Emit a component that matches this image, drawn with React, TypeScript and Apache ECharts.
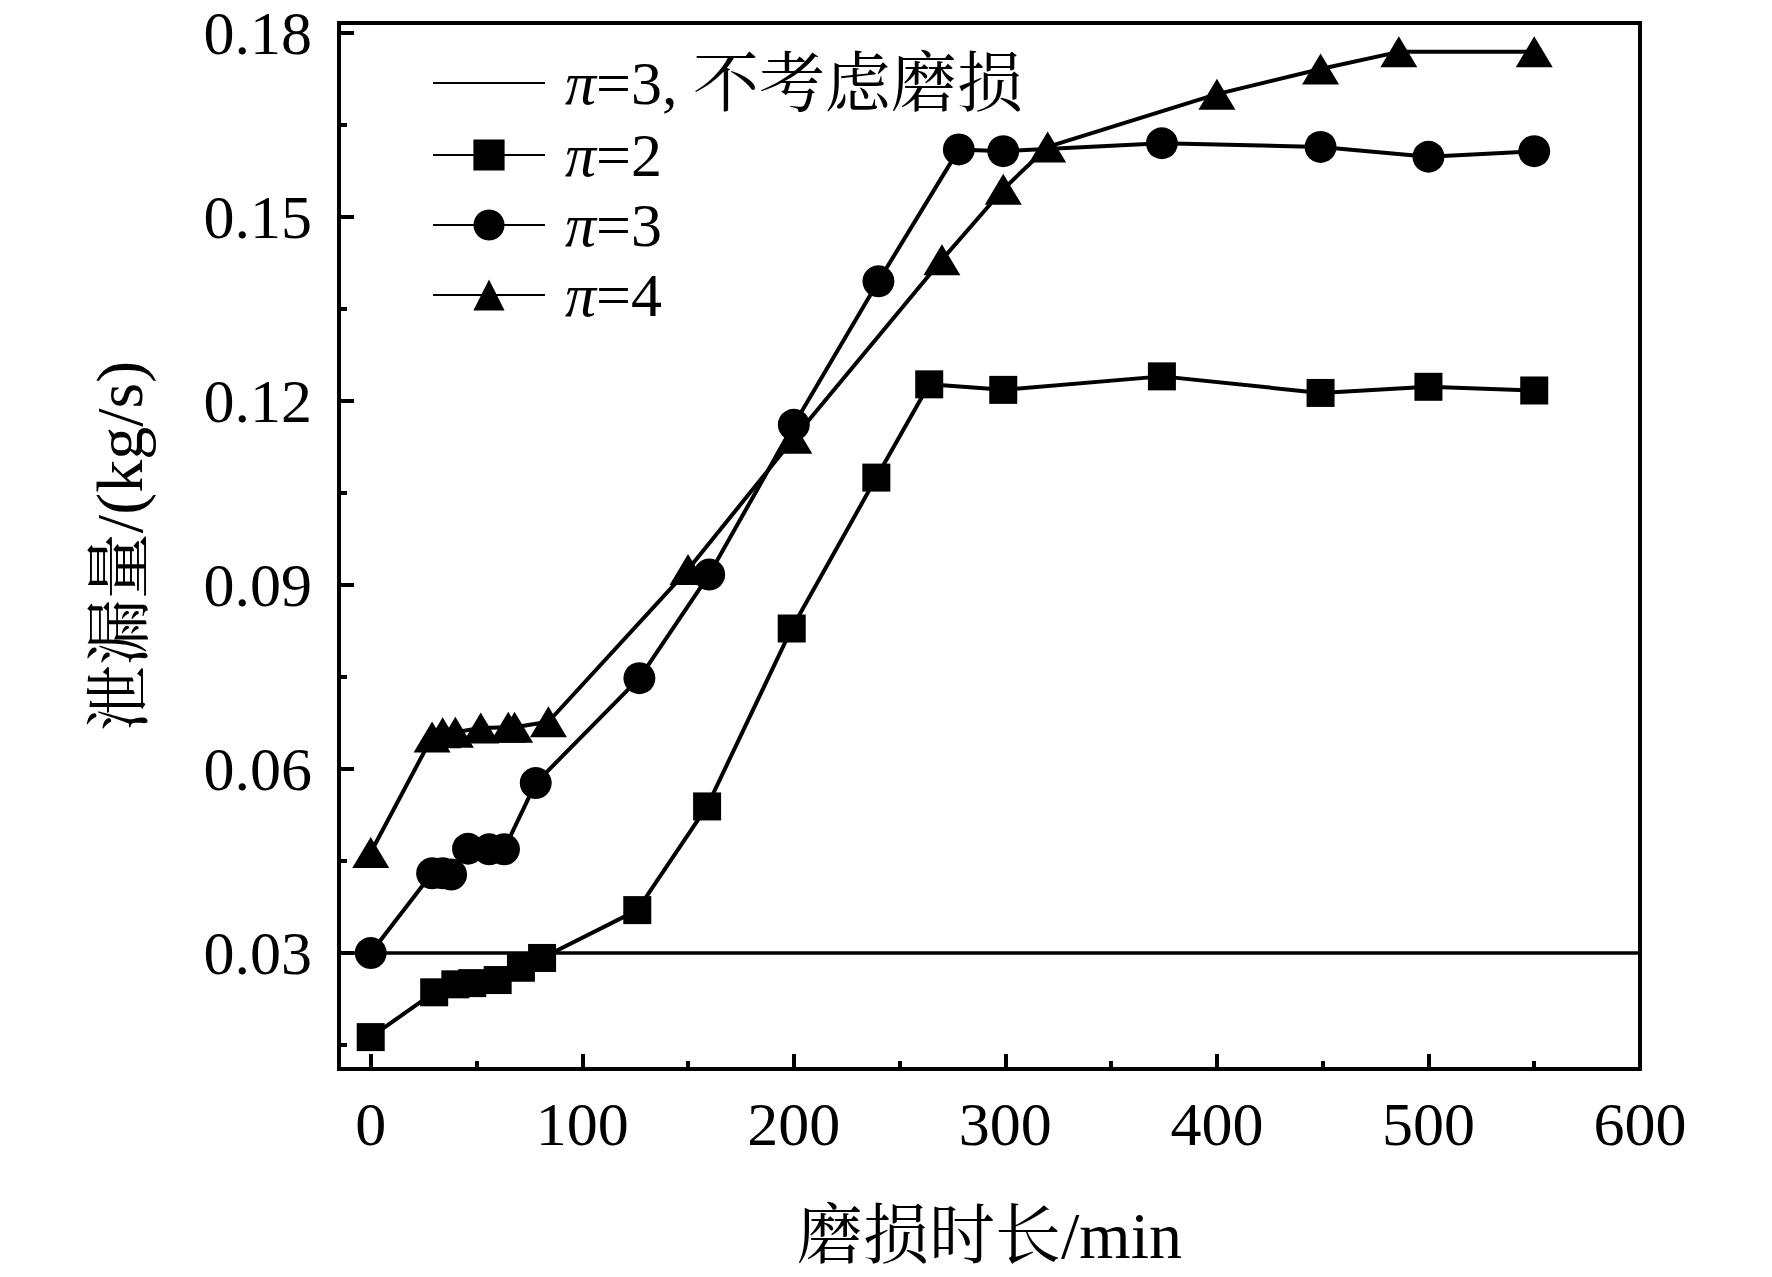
import React, { useEffect, useRef } from "react";
import * as echarts from "echarts";

const xMajorTicks = [0, 100, 200, 300, 400, 500, 600];
const xMinorTicks = [50, 150, 250, 350, 450, 550];
const yMajorTicks = [0.03, 0.06, 0.09, 0.12, 0.15, 0.18];
const yMinorTicks = [0.015, 0.045, 0.075, 0.105, 0.135, 0.165];

const baseName = "π=3, 不考虑磨损";
const baseX = [-15, 600];
const baseY = [0.03, 0.03];

const pi2X = [0, 30, 40, 48, 60, 71, 81, 126, 159, 199, 239, 264, 299, 374, 449, 500, 550];
const pi2Y = [0.0163, 0.0236, 0.0249, 0.0251, 0.0256, 0.0276, 0.0292, 0.0370, 0.0539, 0.0829, 0.1075, 0.1227, 0.1218, 0.1240, 0.1213, 0.1223, 0.1217];

const pi3X = [0, 29, 34, 38, 46, 56, 63, 78, 127, 160, 200, 240, 278, 299, 374, 449, 500, 550];
const pi3Y = [0.030, 0.0430, 0.0430, 0.0428, 0.0470, 0.0469, 0.0469, 0.0577, 0.0748, 0.0917, 0.1161, 0.1395, 0.1610, 0.1607, 0.1620, 0.1614, 0.1598, 0.1607];

const pi4X = [0, 29, 34, 40, 52, 65, 68, 84, 150, 200, 270, 299, 320, 400, 449, 486, 550];
const pi4Y = [0.0464, 0.0652, 0.0659, 0.0660, 0.0667, 0.0668, 0.0668, 0.0677, 0.0925, 0.1139, 0.1430, 0.1545, 0.1614, 0.1700, 0.1741, 0.1769, 0.1769];

const X_MIN = -15;
const X_MAX = 600;
const Y_MIN = 0.0111;
const Y_MAX = 0.1816;

const FONT = "'Liberation Serif', 'Times New Roman', 'Noto Serif CJK SC', 'Noto Sans CJK SC', serif";

function zip(xs: number[], ys: number[]) {
  return xs.map((x, i) => [x, ys[i]]);
}

function legendLabel(name: string) {
  const rest = name.slice(1);
  const idx = rest.indexOf(" ");
  if (idx >= 0) {
    return "{i|π}{t|" + rest.slice(0, idx + 1) + "}{c|" + rest.slice(idx + 1) + "}";
  }
  return "{i|π}{t|" + rest + "}";
}

export default function App() {
  const ref = useRef<HTMLDivElement>(null);
  useEffect(() => {
    if (!ref.current) return;
    const chart = echarts.init(ref.current, null, { renderer: "svg" });
    const lw = 4;
    const lineStyle = { color: "#000", width: lw };
    const common = {
      type: "line",
      xAxisIndex: 0,
      yAxisIndex: 0,
      lineStyle,
      itemStyle: { color: "#000" },
      emphasis: { disabled: true },
      z: 5,
    };
    const tickStyle = { color: "#000", width: 4 };
    const option: any = {
      animation: false,
      backgroundColor: "#fff",
      grid: {
        left: 339,
        top: 23,
        width: 1640 - 339,
        height: 1069 - 23,
        show: true,
        borderColor: "#000",
        borderWidth: 4,
        backgroundColor: "transparent",
        containLabel: false,
      },
      legend: {
        left: 427,
        top: 45,
        orient: "vertical",
        itemWidth: 112,
        itemHeight: 39,
        itemGap: 8,
        data: [
          { name: baseName, itemStyle: { opacity: 0 } },
          { name: "π=2" },
          { name: "π=3" },
          { name: "π=4" },
        ],
        formatter: legendLabel,
        textStyle: {
          color: "#000",
          fontFamily: FONT,
          fontSize: 62,
          lineHeight: 62,
          rich: {
            i: { fontStyle: "italic", fontFamily: FONT, fontSize: 62, padding: [0, 0, 0, 15], color: "#000" },
            t: { fontFamily: FONT, fontSize: 62, color: "#000" },
            c: { fontFamily: FONT, fontSize: 66, color: "#000" },
          },
        },
      },
      xAxis: [
        {
          type: "value",
          min: X_MIN,
          max: X_MAX,
          position: "bottom",
          splitLine: { show: false },
          axisLine: { show: false, onZero: false },
          axisTick: { show: true, inside: true, length: 15, customValues: xMajorTicks, lineStyle: tickStyle },
          axisLabel: {
            customValues: xMajorTicks,
            color: "#000",
            fontFamily: FONT,
            fontSize: 62,
            margin: 24,
          },
          name: "磨损时长/min",
          nameLocation: "middle",
          nameGap: 133,
          nameTextStyle: { color: "#000", fontFamily: FONT, fontSize: 66 },
        },
        {
          type: "value",
          min: X_MIN,
          max: X_MAX,
          position: "bottom",
          splitLine: { show: false },
          axisLine: { show: false, onZero: false },
          axisTick: { show: true, inside: true, length: 8, customValues: xMinorTicks, lineStyle: tickStyle },
          axisLabel: { show: false },
        },
      ],
      yAxis: [
        {
          type: "value",
          min: Y_MIN,
          max: Y_MAX,
          position: "left",
          splitLine: { show: false },
          axisLine: { show: false, onZero: false },
          axisTick: { show: true, inside: true, length: 15, customValues: yMajorTicks, lineStyle: tickStyle },
          axisLabel: {
            customValues: yMajorTicks,
            color: "#000",
            fontFamily: FONT,
            fontSize: 62,
            margin: 27,
            formatter: (v: number) => v.toFixed(2),
          },
          name: "泄漏量/(kg/s)",
          nameLocation: "middle",
          nameGap: 187,
          nameTextStyle: { color: "#000", fontFamily: FONT, fontSize: 66 },
        },
        {
          type: "value",
          min: Y_MIN,
          max: Y_MAX,
          position: "left",
          splitLine: { show: false },
          axisLine: { show: false, onZero: false },
          axisTick: { show: true, inside: true, length: 8, customValues: yMinorTicks, lineStyle: tickStyle },
          axisLabel: { show: false },
        },
      ],
      series: [
        {
          ...common,
          name: baseName,
          data: zip(baseX, baseY),
          symbol: "none",
          showSymbol: false,
          lineStyle: { color: "#000", width: 3.5 },
          z: 3,
        },
        {
          ...common,
          name: "π=2",
          data: zip(pi2X, pi2Y),
          symbol: "rect",
          symbolSize: 28,
        },
        {
          ...common,
          name: "π=3",
          data: zip(pi3X, pi3Y),
          symbol: "circle",
          symbolSize: 32,
        },
        {
          ...common,
          name: "π=4",
          data: zip(pi4X, pi4Y),
          symbol: "triangle",
          symbolSize: [37, 31],
        },
      ],
    };
    chart.setOption(option);
    return () => chart.dispose();
  }, []);
  return (
    <div
      ref={ref}
      style={{ position: "absolute", left: 0, top: 0, width: 1772, height: 1277, background: "#fff" }}
    />
  );
}
